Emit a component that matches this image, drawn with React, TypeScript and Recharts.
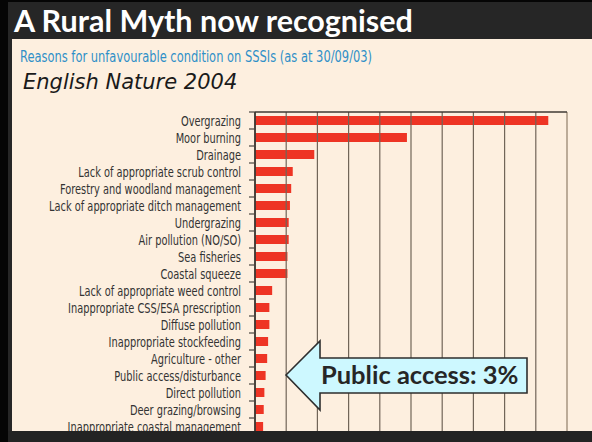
import React from "react";
import { BarChart, Bar, XAxis, YAxis, ReferenceLine } from "recharts";

const categories = [
  "Overgrazing",
  "Moor burning",
  "Drainage",
  "Lack of appropriate scrub control",
  "Forestry and woodland management",
  "Lack of appropriate ditch management",
  "Undergrazing",
  "Air pollution (NO/SO)",
  "Sea fisheries",
  "Coastal squeeze",
  "Lack of appropriate weed control",
  "Inappropriate CSS/ESA prescription",
  "Diffuse pollution",
  "Inappropriate stockfeeding",
  "Agriculture - other",
  "Public access/disturbance",
  "Direct pollution",
  "Deer grazing/browsing",
  "Inappropriate coastal management",
];

const values = [94, 48.7, 19, 12.1, 11.6, 11.2, 10.8, 10.8, 10.4, 10.4, 5.5, 4.6, 4.6, 4.2, 3.9, 3.4, 3.0, 2.8, 2.6];

const gridTicks = [10, 20, 30, 40, 50, 60, 70, 80, 90];
const xTicks = [0, 10, 20, 30, 40, 50, 60, 70, 80, 90, 100];

const data = categories.map((name, i) => ({ name, value: values[i] }));

const LABEL_FONT = "'Liberation Sans Narrow', 'DejaVu Sans Condensed', 'Arial Narrow', sans-serif";

const BAND = 17;

const CategoryTick = (props: any) => {
  const { x, y, payload } = props;
  return (
    <g>
      <line x1={x + 8} x2={x + 14} y1={y - BAND / 2} y2={y - BAND / 2} stroke="#4a4540" strokeWidth={1.2} />
      <text
        transform={`translate(${x},${y}) scale(0.78,1)`}
        x={0}
        y={0}
        dy="0.36em"
        textAnchor="end"
        fill="#333"
        fontSize={14}
        fontFamily={LABEL_FONT}
      >
        {payload.value}
      </text>
    </g>
  );
};

export default function App() {
  return (
    <div
      style={{
        position: "absolute",
        left: 0,
        top: 0,
        width: 592,
        height: 442,
        background: "#262626",
        overflow: "hidden",
      }}
    >
      <div style={{ position: "absolute", left: 0, top: 0, width: 8, height: 442, background: "#050505" }} />
      <div style={{ position: "absolute", left: 0, top: 0, width: 592, height: 2, background: "#050505" }} />
      <div
        style={{
          position: "absolute",
          left: 14,
          top: 0,
          color: "#ffffff",
          fontFamily: "Lato, 'Open Sans', sans-serif",
          fontWeight: 700,
          fontSize: 30.5,
          lineHeight: "40px",
          whiteSpace: "nowrap",
        }}
      >
        A Rural Myth now recognised
      </div>
      <div
        style={{
          position: "absolute",
          left: 12,
          top: 39,
          width: 580,
          height: 392,
          background: "#fdefdf",
        }}
      />
      <div
        style={{
          position: "absolute",
          left: 20,
          top: 48,
          color: "#2f8fc8",
          fontFamily: LABEL_FONT,
          fontSize: 15,
          lineHeight: "19px",
          whiteSpace: "nowrap",
          transform: "scaleX(0.85)",
          transformOrigin: "0 0",
        }}
      >
        Reasons for unfavourable condition on SSSIs (as at 30/09/03)
      </div>
      <div
        style={{
          position: "absolute",
          left: 23,
          top: 68,
          color: "#1a1a1a",
          fontFamily: "'DejaVu Sans', sans-serif",
          fontStyle: "italic",
          fontSize: 21,
          lineHeight: "28px",
          whiteSpace: "nowrap",
        }}
      >
        English Nature 2004
      </div>
      <div style={{ position: "absolute", left: 0, top: 0 }}>
        <BarChart
          width={592}
          height={442}
          data={data}
          layout="vertical"
          margin={{ top: 111, right: 25, bottom: 7, left: 15 }}
        >
          <XAxis
            type="number"
            orientation="top"
            domain={[0, 100]}
            ticks={xTicks}
            height={1}
            tick={false}
            tickLine={false}
            axisLine={{ stroke: "#3f3a35", strokeWidth: 1.5 }}
          />
          <YAxis
            type="category"
            dataKey="name"
            width={240}
            interval={0}
            tickSize={6}
            tickMargin={8}
            tickLine={false}
            axisLine={{ stroke: "#3f3a35", strokeWidth: 1.5 }}
            tick={<CategoryTick />}
          />
          {gridTicks.map((t) => (
            <ReferenceLine key={t} x={t} stroke="#716558" strokeWidth={1.2} />
          ))}
          <ReferenceLine x={100} stroke="#bcab98" strokeWidth={2} />
          <Bar dataKey="value" fill="#ee3424" barSize={9} isAnimationActive={false} />
          <ReferenceLine x={0} stroke="#3f3a35" strokeWidth={1.5} />
        </BarChart>
      </div>
      <svg
        width={592}
        height={442}
        style={{ position: "absolute", left: 0, top: 0, pointerEvents: "none" }}
      >
        <polygon
          points="286,375 320,341 320,358 527,358 527,393 320,393 320,410"
          fill="#cdf8ff"
          stroke="#2e2e2e"
          strokeWidth={1.6}
          strokeLinejoin="miter"
        />
        <text
          x={321}
          y={384}
          fill="#262626"
          fontFamily="Lato, 'Open Sans', sans-serif"
          fontWeight={700}
          fontSize={25.5}
        >
          Public access: 3%
        </text>
      </svg>
      <div style={{ position: "absolute", left: 0, top: 431, width: 592, height: 11, background: "#232323" }} />
      <div style={{ position: "absolute", left: 0, top: 431, width: 8, height: 11, background: "#050505" }} />
    </div>
  );
}
